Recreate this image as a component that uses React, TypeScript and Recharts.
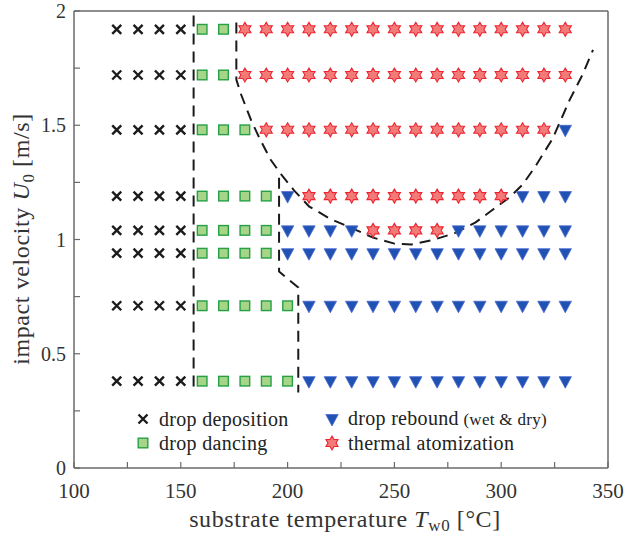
import React from 'react';
import { ScatterChart, Scatter, XAxis, YAxis, Legend } from 'recharts';

// impact velocity U0 [m/s] of each measured row, top to bottom
const velocities = [1.92, 1.72, 1.48, 1.19, 1.04, 0.94, 0.71, 0.38];

// substrate temperatures [°C] per regime, one list per velocity row
const depositionRows = [
  [120, 130, 140, 150],
  [120, 130, 140, 150],
  [120, 130, 140, 150],
  [120, 130, 140, 150],
  [120, 130, 140, 150],
  [120, 130, 140, 150],
  [120, 130, 140, 150],
  [120, 130, 140, 150],
];
const dancingRows = [
  [160, 170],
  [160, 170],
  [160, 170, 180],
  [160, 170, 180, 190],
  [160, 170, 180, 190],
  [160, 170, 180, 190],
  [160, 170, 180, 190, 200],
  [160, 170, 180, 190, 200],
];
const reboundRows = [
  [],
  [],
  [330],
  [200, 310, 320, 330],
  [200, 210, 220, 230, 280, 290, 300, 310, 320, 330],
  [200, 210, 220, 230, 240, 250, 260, 270, 280, 290, 300, 310, 320, 330],
  [210, 220, 230, 240, 250, 260, 270, 280, 290, 300, 310, 320, 330],
  [210, 220, 230, 240, 250, 260, 270, 280, 290, 300, 310, 320, 330],
];
const atomizationRows = [
  [180, 190, 200, 210, 220, 230, 240, 250, 260, 270, 280, 290, 300, 310, 320, 330],
  [180, 190, 200, 210, 220, 230, 240, 250, 260, 270, 280, 290, 300, 310, 320, 330],
  [190, 200, 210, 220, 230, 240, 250, 260, 270, 280, 290, 300, 310, 320],
  [210, 220, 230, 240, 250, 260, 270, 280, 290, 300],
  [240, 250, 260, 270],
  [],
  [],
  [],
];

// dashed regime boundaries (hand drawn in the original)
const depositionEdgeT = [156, 156];
const depositionEdgeU = [1.98, 0.33];
const reboundEdgeT = [196, 196, 205, 205];
const reboundEdgeU = [1.27, 0.86, 0.79, 0.33];
const atomizationEdgeT = [176, 176, 178, 183, 187, 192, 197, 203, 210, 220, 230, 240, 250, 258, 268, 278, 288, 296, 304, 310, 316, 324, 332, 338, 343];
const atomizationEdgeU = [1.95, 1.7, 1.64, 1.52, 1.44, 1.35, 1.285, 1.215, 1.145, 1.09, 1.05, 1.008, 0.982, 0.978, 0.998, 1.027, 1.075, 1.13, 1.185, 1.24, 1.32, 1.44, 1.61, 1.72, 1.83];

const xTicks = [100, 125, 150, 175, 200, 225, 250, 275, 300, 325, 350];
const yTicks = [0, 0.25, 0.5, 0.75, 1, 1.25, 1.5, 1.75, 2];

const FONT = '"Liberation Serif", "DejaVu Serif", serif';
const AXIS = '#6a6a6a';
const TEXT = '#333';

const toPoints = (rows: number[][]) =>
  rows.flatMap((temps, i) => temps.map((T) => ({ T, U: velocities[i] })));
const toCurve = (ts: number[], us: number[]) => ts.map((T, i) => ({ T, U: us[i] }));

const CrossMark = ({ cx, cy }: any) => (
  <path
    d={`M${cx - 4.5},${cy - 4.5}L${cx + 4.5},${cy + 4.5}M${cx + 4.5},${cy - 4.5}L${cx - 4.5},${cy + 4.5}`}
    stroke="#1c1c1c"
    strokeWidth={2.4}
    fill="none"
  />
);

const SquareMark = ({ cx, cy }: any) => (
  <rect x={cx - 4.8} y={cy - 4.8} width={9.6} height={9.6} fill="#a6d588" stroke="#25a046" strokeWidth={1.4} />
);

const TriangleMark = ({ cx, cy }: any) => (
  <polygon
    points={`${cx - 6.2},${cy - 4.5} ${cx + 6.2},${cy - 4.5} ${cx},${cy + 7}`}
    fill="#1f52b2"
    stroke="#4a6ad0"
    strokeWidth={0.8}
  />
);

const HexagramMark = ({ cx, cy }: any) => {
  const R = 7;
  const r = R / Math.sqrt(3);
  const pts: string[] = [];
  for (let k = 0; k < 12; k++) {
    const a = (-90 + k * 30) * (Math.PI / 180);
    const rad = k % 2 === 0 ? R : r;
    pts.push(`${cx + rad * Math.cos(a)},${cy + rad * Math.sin(a)}`);
  }
  return <polygon points={pts.join(' ')} fill="#f27a78" stroke="#ec2630" strokeWidth={1.1} />;
};

const NoMark = () => <g />;

const fmtX = (v: number) => (v % 50 === 0 ? String(v) : '');
const fmtY = (v: number) => ((v * 2) % 1 === 0 ? String(v) : '');

const XLabel = (props: any) => {
  const { x, y, width } = props.viewBox;
  return (
    <text
      x={x + width / 2 + 4}
      y={y + 59}
      textAnchor="middle"
      fontFamily={FONT}
      fontSize={24}
      letterSpacing={0.6}
      fill={TEXT}
    >
      substrate temperature <tspan fontStyle="italic">T</tspan>
      <tspan fontSize={17} dy={4}>w0</tspan>
      <tspan dy={-4}> [°C]</tspan>
    </text>
  );
};

const YLabel = () => (
  <text
    transform="translate(29, 239) rotate(-90)"
    textAnchor="middle"
    fontFamily={FONT}
    fontSize={24}
    letterSpacing={0.6}
    fill={TEXT}
  >
    impact velocity <tspan fontStyle="italic">U</tspan>
    <tspan fontSize={17} dy={5}>0</tspan>
    <tspan dy={-5}> [m/s]</tspan>
  </text>
);

const legendItems = [
  { key: 'dep', mark: CrossMark, label: 'drop deposition' },
  { key: 'reb', mark: TriangleMark, label: 'drop rebound', note: '(wet & dry)' },
  { key: 'dan', mark: SquareMark, label: 'drop dancing' },
  { key: 'atm', mark: HexagramMark, label: 'thermal atomization' },
];

const LegendBox = () => (
  <div
    style={{
      display: 'grid',
      gridTemplateColumns: '189px auto',
      rowGap: 0,
      fontFamily: FONT,
      fontSize: 20,
      letterSpacing: 0.3,
      color: '#222',
      lineHeight: '24px',
    }}
  >
    {legendItems.map((item) => {
      const Mark = item.mark;
      return (
        <div key={item.key} style={{ display: 'flex', alignItems: 'center', height: 24, whiteSpace: 'nowrap' }}>
          <svg width={18} height={24} style={{ marginRight: 7 }}>
            <Mark cx={9} cy={12} />
          </svg>
          <span>
            {item.label}
            {item.note ? <span style={{ fontSize: 17 }}> {item.note}</span> : null}
          </span>
        </div>
      );
    })}
  </div>
);

export default function App() {
  return (
    <div style={{ position: 'absolute', left: 0, top: 0, width: 625, height: 538, background: '#fff' }}>
      <ScatterChart width={625} height={538} margin={{ top: 10, right: 16, bottom: 0, left: 0 }}>
        <XAxis
          type="number"
          dataKey="T"
          domain={[100, 350]}
          ticks={xTicks}
          interval={0}
          tickFormatter={fmtX}
          height={70}
          tickSize={-6}
          tickMargin={21}
          axisLine={{ stroke: AXIS, strokeWidth: 1.5 }}
          tickLine={{ stroke: AXIS, strokeWidth: 1.2 }}
          tick={{ fill: TEXT, fontSize: 21, fontFamily: FONT }}
          label={{ content: XLabel }}
        />
        <XAxis
          xAxisId="top"
          orientation="top"
          type="number"
          domain={[100, 350]}
          ticks={xTicks}
          interval={0}
          height={1}
          tick={false}
          tickSize={-6}
          axisLine={{ stroke: AXIS, strokeWidth: 1.5 }}
          tickLine={{ stroke: AXIS, strokeWidth: 1.2 }}
        />
        <YAxis
          type="number"
          dataKey="U"
          domain={[0, 2]}
          ticks={yTicks}
          interval={0}
          tickFormatter={fmtY}
          width={74}
          tickSize={-6}
          tickMargin={14}
          axisLine={{ stroke: AXIS, strokeWidth: 1.5 }}
          tickLine={{ stroke: AXIS, strokeWidth: 1.2 }}
          tick={{ fill: TEXT, fontSize: 20, fontFamily: FONT }}
          label={{ content: YLabel }}
        />
        <YAxis
          yAxisId="right"
          orientation="right"
          type="number"
          domain={[0, 2]}
          ticks={yTicks}
          interval={0}
          width={1}
          tick={false}
          tickSize={-6}
          axisLine={{ stroke: AXIS, strokeWidth: 1.5 }}
          tickLine={{ stroke: AXIS, strokeWidth: 1.2 }}
        />
        <Scatter
          data={toCurve(depositionEdgeT, depositionEdgeU)}
          line={{ stroke: '#1a1a1a', strokeWidth: 2, strokeDasharray: '11 7' }}
          shape={NoMark}
          legendType="none"
          isAnimationActive={false}
        />
        <Scatter
          data={toCurve(reboundEdgeT, reboundEdgeU)}
          line={{ stroke: '#1a1a1a', strokeWidth: 2, strokeDasharray: '11 7' }}
          shape={NoMark}
          legendType="none"
          isAnimationActive={false}
        />
        <Scatter
          data={toCurve(atomizationEdgeT, atomizationEdgeU)}
          line={{ stroke: '#1a1a1a', strokeWidth: 2, strokeDasharray: '11 7' }}
          shape={NoMark}
          legendType="none"
          isAnimationActive={false}
        />
        <Scatter name="drop deposition" data={toPoints(depositionRows)} shape={CrossMark} isAnimationActive={false} />
        <Scatter name="drop dancing" data={toPoints(dancingRows)} shape={SquareMark} isAnimationActive={false} />
        <Scatter name="drop rebound (wet & dry)" data={toPoints(reboundRows)} shape={TriangleMark} isAnimationActive={false} />
        <Scatter name="thermal atomization" data={toPoints(atomizationRows)} shape={HexagramMark} isAnimationActive={false} />
        <Legend
          content={LegendBox}
          layout="vertical"
          align="center"
          verticalAlign="middle"
          wrapperStyle={{ left: 134, top: 407, width: 340, height: 50 }}
        />
      </ScatterChart>
    </div>
  );
}
